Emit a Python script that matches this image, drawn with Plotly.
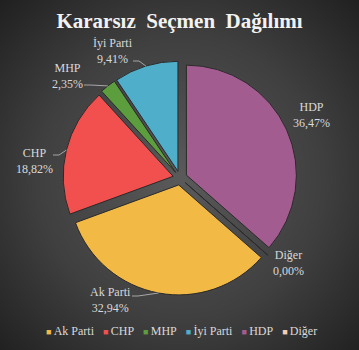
import numpy as np
import plotly.graph_objects as go

# ---- data ----
labels = ["Ak Parti", "CHP", "MHP", "İyi Parti", "HDP", "Diğer"]
values = [32.94, 18.82, 2.35, 9.41, 36.47, 0.00]
pct_text = ["32,94%", "18,82%", "2,35%", "9,41%", "36,47%", "0,00%"]
title_text = "Kararsız\u00a0 Seçmen\u00a0 Dağılımı"

# ---- style ----
colors = ["#F2B944", "#F24F4F", "#5C9E3E", "#4FAECA", "#A35C90", "#F7CDB0"]
W, H = 359, 350
CX, CY, R_OUT = 180.0, 178.0, 117.0
PULL = 0.064
TXT = "#D9D9D9"
FONT = "Liberation Serif"

# label text centers (pixels) and leader-line starts (None = no leader)
label_pos = [(110, 300), (34, 161), (67, 76), (113, 51), (311, 115), (288, 263)]
leader_from = [(132, 296), (53, 155), (84, 85), (133, 61), None, None]

total = sum(values)
rotation = 360.0 * (values[4] + values[5]) / total
r_in = R_OUT / (1 + PULL)

fig = go.Figure()

# background radial gradient
gx = np.linspace(0, W, 90)
gy = np.linspace(0, H, 90)
XX, YY = np.meshgrid(gx, gy)
dist = np.sqrt(((XX - CX) / 200.0) ** 2 + ((YY - CY) / 200.0) ** 2)
fig.add_trace(go.Heatmap(
    x=gx, y=gy, z=dist, zmin=0, zmax=1.3,
    colorscale=[[0, "#5A5A5A"], [0.55, "#3F3F3F"], [1, "#1E1E1E"]],
    showscale=False, hoverinfo="skip", zsmooth="best"))

fig.add_trace(go.Pie(
    labels=labels, values=values, sort=False, direction="clockwise",
    rotation=rotation, pull=[PULL] * len(values),
    marker=dict(colors=colors, line=dict(color="#2A2A2A", width=1)),
    textinfo="none", hoverinfo="label+percent", showlegend=False,
    domain=dict(x=[(CX - R_OUT) / W, (CX + R_OUT) / W],
                y=[1 - (CY + R_OUT) / H, 1 - (CY - R_OUT) / H])))

# data labels + leader lines
start = rotation
for i, (lab, v) in enumerate(zip(labels, values)):
    ang = start + 360.0 * v / total
    mid = np.radians((start + ang) / 2)
    start = ang
    lx, ly = label_pos[i]
    fig.add_annotation(x=lx, y=ly, xref="x", yref="y", showarrow=False,
                       text=f"{lab}<br>{pct_text[i]}",
                       font=dict(family=FONT, size=12, color=TXT))
    if leader_from[i] is not None:
        sx, sy = leader_from[i]
        ox = CX + PULL * r_in * np.sin(mid)
        oy = CY - PULL * r_in * np.cos(mid)
        ex = ox + r_in * np.sin(mid)
        ey = oy - r_in * np.cos(mid)
        bx = sx + (6 if ex > sx else -6)
        fig.add_shape(type="path", xref="x", yref="y", layer="above",
                      path=f"M {sx},{sy} L {bx},{sy} L {ex:.1f},{ey:.1f}",
                      line=dict(color="#BFBFBF", width=0.8))

# custom single-row legend
parts = []
for lab, c in zip(labels, colors):
    parts.append(f"<span style='font-size:9px;color:{c}'>■ </span>{lab}")
fig.add_annotation(x=181, y=331, xref="x", yref="y", showarrow=False,
                   text="\u00a0\u00a0\u00a0".join(parts),
                   font=dict(family=FONT, size=12, color=TXT))

fig.update_layout(
    width=W, height=H, margin=dict(l=0, r=0, t=0, b=0),
    paper_bgcolor="#2E2E2E", plot_bgcolor="#2E2E2E",
    xaxis=dict(range=[0, W], visible=False, domain=[0, 1], fixedrange=True),
    yaxis=dict(range=[H, 0], visible=False, domain=[0, 1], fixedrange=True),
    title=dict(text=title_text, x=0.5, xanchor="center", y=1 - 21 / H,
               yref="container", yanchor="middle",
               font=dict(family=FONT, size=21, color="#F2F2F2", weight="bold")),
)

fig.write_html("out.html")
